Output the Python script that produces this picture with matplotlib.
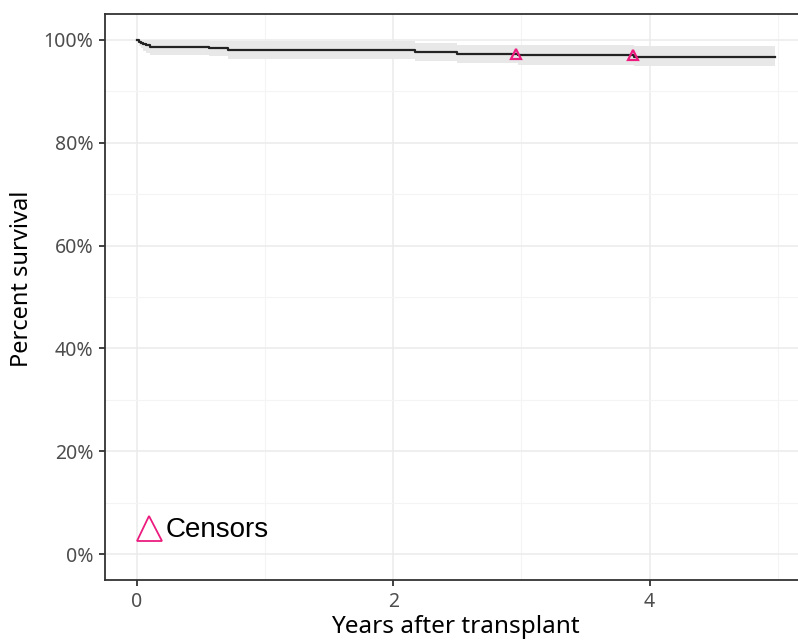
import numpy as np
import matplotlib.pyplot as plt
from matplotlib.ticker import FuncFormatter, MultipleLocator

# Kaplan-Meier steps (years, percent)
times = [0, 0.015, 0.03, 0.05, 0.07, 0.1, 0.56, 0.71, 2.17, 2.50, 2.97, 3.88, 4.98]
surv = [100, 99.6, 99.4, 99.2, 99.0, 98.6, 98.4, 98.1, 97.7, 97.3, 97.0, 96.7, 96.7]
upper = [100, 100, 100, 100, 100, 100, 99.7, 99.7, 99.3, 99.0, 99.0, 98.7, 98.7]
lower = [100, 98.8, 98.3, 97.8, 97.4, 97.0, 96.8, 96.3, 95.8, 95.4, 95.1, 94.8, 94.8]

censor_t = [2.96, 3.87]
censor_s = [97.2, 97.0]

pink = '#ec1c7f'

fig = plt.figure(figsize=(7.98, 6.42), dpi=100)
ax = fig.add_axes([105 / 798, 1 - 580 / 642, 702 / 798, 566 / 642])

ax.fill_between(times, lower, upper, step='post', color='#e8e8e8', lw=0, zorder=1)
ax.step(times, surv, where='post', color='#222222', lw=1.6, zorder=3)
ax.plot(censor_t, censor_s, ls='none', marker='^', ms=7, mfc='none',
        mec=pink, mew=1.6, zorder=4)

# legend-like annotation
ax.plot([0.093], [5.1], marker='^', ms=18, mfc='none', mec=pink, mew=1.3, zorder=4)
ax.text(0.222, 4.7, 'Censors', fontsize=20, family='Liberation Sans',
        va='center', ha='left', color='black')

ax.set_xlim(-0.2485, 5.2285)
ax.set_ylim(-5, 105)
ax.xaxis.set_major_locator(MultipleLocator(2))
ax.xaxis.set_minor_locator(MultipleLocator(1))
ax.yaxis.set_major_locator(MultipleLocator(20))
ax.yaxis.set_minor_locator(MultipleLocator(10))
ax.yaxis.set_major_formatter(FuncFormatter(lambda v, p: f'{v:.0f}%'))

ax.grid(which='major', color='#ebebeb', lw=1.1, zorder=0)
ax.grid(which='minor', color='#f4f4f4', lw=0.8, zorder=0)
ax.set_axisbelow(True)

for s in ax.spines.values():
    s.set_color('#333333')
    s.set_linewidth(1.3)

ax.tick_params(which='major', length=4.3, width=1.3, color='#333333',
               labelsize=14, labelcolor='#4d4d4d', pad=4)
ax.tick_params(which='minor', length=0)
for lab in ax.get_xticklabels() + ax.get_yticklabels():
    lab.set_family('Noto Sans')

fig.text(455 / 798, 1 - 627 / 642, 'Years after transplant', fontsize=17.5,
         family='Noto Sans', ha='center', va='center')
fig.text(22 / 798, 1 - 279 / 642, 'Percent survival', fontsize=17,
         family='Noto Sans', ha='center', va='center', rotation=90)

fig.savefig('out.png', dpi=100)
